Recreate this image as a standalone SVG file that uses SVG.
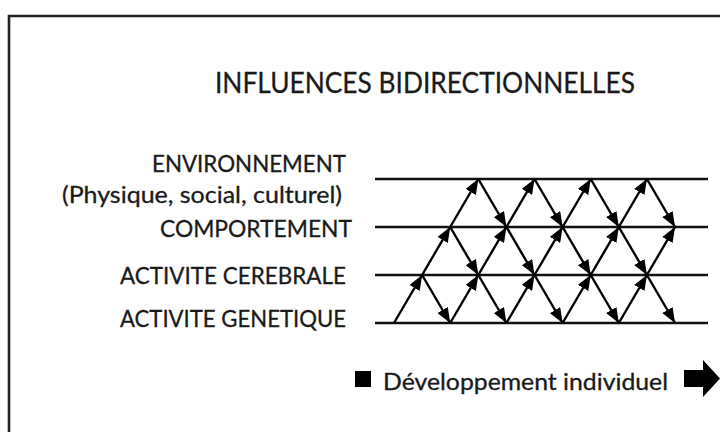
<svg xmlns="http://www.w3.org/2000/svg" width="721" height="432" viewBox="0 0 721 432">
<style>
  text { font-family: Lato, "Open Sans", sans-serif; fill: #1a1a1a; stroke: #1a1a1a; stroke-width: 0.3; }
  .lbl { font-size: 23px; }
  .title { font-size: 29px; }
  .axis { stroke: #111; stroke-width: 2.7; fill: none; }
  .link { stroke: #000; stroke-width: 2.4; fill: none; marker-end: url(#ah); }
  .frame { stroke: #222; stroke-width: 2.6; fill: none; }
</style>
<defs>
  <marker id="ah" markerUnits="userSpaceOnUse" markerWidth="15" markerHeight="12" refX="15" refY="6" orient="auto">
    <path d="M0,0 L15,6 L0,12 Z" fill="#000"/>
  </marker>
</defs>
<rect width="721" height="432" fill="#fff"/>
<g id="frame">
  <path class="frame" d="M9,434 L9,16 L720,16"/>
</g>
<g id="title"><text class="title" x="215" y="93" textLength="420" lengthAdjust="spacingAndGlyphs">INFLUENCES BIDIRECTIONNELLES</text></g>
<g id="env">
  <text class="lbl" x="152" y="172" textLength="194" lengthAdjust="spacingAndGlyphs">ENVIRONNEMENT</text>
  <text class="lbl" x="62" y="203" textLength="280" lengthAdjust="spacingAndGlyphs">(Physique, social, culturel)</text>
  <line class="axis" x1="375" y1="179" x2="708" y2="179"/>
</g>
<g id="comp">
  <text class="lbl" x="160" y="237" textLength="192" lengthAdjust="spacingAndGlyphs">COMPORTEMENT</text>
  <line class="axis" x1="375" y1="227" x2="708" y2="227"/>
</g>
<g id="cereb">
  <text class="lbl" x="120" y="284" textLength="226" lengthAdjust="spacingAndGlyphs">ACTIVITE CEREBRALE</text>
  <line class="axis" x1="375" y1="275" x2="708" y2="275"/>
</g>
<g id="genet">
  <text class="lbl" x="120" y="327" textLength="226" lengthAdjust="spacingAndGlyphs">ACTIVITE GENETIQUE</text>
  <line class="axis" x1="375" y1="323" x2="708" y2="323"/>
</g>
<g id="dev">
  <rect x="355" y="371" width="16" height="16" fill="#000"/>
  <text class="lbl" x="383" y="390" textLength="285" lengthAdjust="spacingAndGlyphs">Développement individuel</text>
  <path d="M684,370 L703,370 L703,360 L720,378.5 L703,397 L703,387 L684,387 Z" fill="#000"/>
</g>
<g id="connectors">
  <line class="link" x1="394" y1="323" x2="422.1" y2="275"/>
  <line class="link" x1="450.2" y1="323" x2="478.3" y2="275"/>
  <line class="link" x1="506.4" y1="323" x2="534.5" y2="275"/>
  <line class="link" x1="562.6" y1="323" x2="590.7" y2="275"/>
  <line class="link" x1="618.8" y1="323" x2="646.9" y2="275"/>
  <line class="link" x1="422.1" y1="275" x2="450.2" y2="227"/>
  <line class="link" x1="478.3" y1="275" x2="506.4" y2="227"/>
  <line class="link" x1="534.5" y1="275" x2="562.6" y2="227"/>
  <line class="link" x1="590.7" y1="275" x2="618.8" y2="227"/>
  <line class="link" x1="646.9" y1="275" x2="675" y2="227"/>
  <line class="link" x1="450.2" y1="227" x2="478.3" y2="179"/>
  <line class="link" x1="506.4" y1="227" x2="534.5" y2="179"/>
  <line class="link" x1="562.6" y1="227" x2="590.7" y2="179"/>
  <line class="link" x1="618.8" y1="227" x2="646.9" y2="179"/>
  <line class="link" x1="478.3" y1="179" x2="506.4" y2="227"/>
  <line class="link" x1="534.5" y1="179" x2="562.6" y2="227"/>
  <line class="link" x1="590.7" y1="179" x2="618.8" y2="227"/>
  <line class="link" x1="646.9" y1="179" x2="675" y2="227"/>
  <line class="link" x1="450.2" y1="227" x2="478.3" y2="275"/>
  <line class="link" x1="506.4" y1="227" x2="534.5" y2="275"/>
  <line class="link" x1="562.6" y1="227" x2="590.7" y2="275"/>
  <line class="link" x1="618.8" y1="227" x2="646.9" y2="275"/>
  <line class="link" x1="422.1" y1="275" x2="450.2" y2="323"/>
  <line class="link" x1="478.3" y1="275" x2="506.4" y2="323"/>
  <line class="link" x1="534.5" y1="275" x2="562.6" y2="323"/>
  <line class="link" x1="590.7" y1="275" x2="618.8" y2="323"/>
  <line class="link" x1="646.9" y1="275" x2="675" y2="323"/>
</g>
</svg>
